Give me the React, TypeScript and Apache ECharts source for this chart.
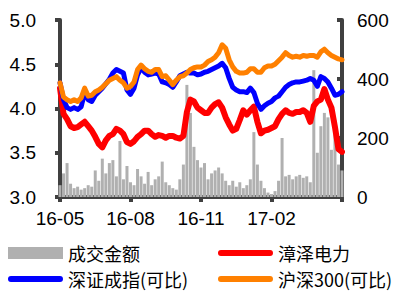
import React, { useEffect, useRef } from "react";
import * as echarts from "echarts";

// x positions are index steps (~2.5 trading days); tick labels every 20 steps
const tickLabels = ["16-05", "16-08", "16-11", "17-02", ""];

const volume = [
  40, 80, 115, 45, 30, 35, 25, 30, 40, 35,
  90, 55, 130, 80, 115, 125, 70, 190, 60, 105,
  50, 40, 95, 70, 45, 85, 40, 60, 70, 120,
  50, 40, 30, 25, 60, 110, 380, 285, 170, 125,
  100, 115, 60, 80, 90, 100, 80, 55, 40, 55,
  35, 50, 30, 40, 60, 220, 110, 55, 30, 15,
  10, 20, 55, 200, 70, 75, 60, 70, 75, 65,
  70, 50, 430, 150, 240, 285, 270, 160, 260, 110, 90,
];

const zhangze = [
  4.23, 3.94, 3.88, 3.80, 3.78, 3.79, 3.82, 3.85, 3.80, 3.75,
  3.68, 3.60, 3.56, 3.64, 3.69, 3.71, 3.77, 3.75, 3.71, 3.62,
  3.60, 3.63, 3.68, 3.71, 3.75, 3.75, 3.71, 3.68, 3.70, 3.69,
  3.67, 3.69, 3.69, 3.67, 3.66, 3.69, 3.96, 4.10, 4.08, 4.01,
  3.98, 3.95, 3.95, 4.01, 4.05, 4.07, 4.01, 3.90, 3.82, 3.75,
  3.77, 3.87, 3.98, 3.93, 3.98, 4.02, 3.85, 3.72, 3.75, 3.76,
  3.78, 3.80, 3.88, 3.94, 3.98, 3.95, 3.94, 3.96, 3.96, 3.98,
  3.95, 3.85, 4.03, 4.08, 4.10, 4.22, 4.10, 4.01, 3.79, 3.54, 3.51,
];

const szComponent = [
  4.29, 4.10, 4.01, 3.99, 4.01, 3.99, 4.02, 4.18, 4.10, 4.08,
  4.15, 4.19, 4.23, 4.28, 4.33, 4.40, 4.44, 4.42, 4.40, 4.21,
  4.16, 4.23, 4.38, 4.46, 4.41, 4.38, 4.39, 4.40, 4.39, 4.30,
  4.29, 4.27, 4.24, 4.30, 4.37, 4.39, 4.41, 4.40, 4.40, 4.38,
  4.39, 4.41, 4.42, 4.44, 4.46, 4.48, 4.51, 4.46, 4.34, 4.24,
  4.21, 4.19, 4.19, 4.18, 4.23, 4.18, 4.06, 3.99, 4.03, 4.06,
  4.08, 4.12, 4.14, 4.19, 4.24, 4.27, 4.29, 4.30, 4.30, 4.31,
  4.32, 4.34, 4.32, 4.25, 4.36, 4.34, 4.30, 4.23, 4.15, 4.16, 4.19,
];

const hs300 = [
  4.29, 4.13, 4.10, 4.08, 4.10, 4.08, 4.12, 4.23, 4.14, 4.15,
  4.19, 4.21, 4.24, 4.28, 4.32, 4.34, 4.36, 4.32, 4.29, 4.23,
  4.25, 4.30, 4.44, 4.49, 4.45, 4.42, 4.41, 4.44, 4.44, 4.36,
  4.37, 4.32, 4.27, 4.32, 4.36, 4.37, 4.40, 4.44, 4.46, 4.47,
  4.47, 4.49, 4.53, 4.55, 4.58, 4.63, 4.72, 4.68, 4.55, 4.47,
  4.42, 4.40, 4.40, 4.41, 4.45, 4.45, 4.41, 4.41, 4.46, 4.48,
  4.48, 4.50, 4.54, 4.58, 4.63, 4.60, 4.58, 4.59, 4.58, 4.60,
  4.59, 4.60, 4.60, 4.58, 4.64, 4.67, 4.63, 4.60, 4.58, 4.56, 4.55,
];

const seriesNames = ["成交金额", "漳泽电力", "深证成指(可比)", "沪深300(可比)"];

const pairs = (arr: number[]) => arr.map((v, i) => [i, v]);

const LINE_ICON =
  "path://M3,0 L53,0 A3,3 0 0 1 53,6 L3,6 A3,3 0 0 1 3,0 Z";

export default function App() {
  const ref = useRef<HTMLDivElement>(null);
  useEffect(() => {
    if (!ref.current) return;
    const chart = echarts.init(ref.current, undefined, { renderer: "svg" });
    const axisColor = "#404040";
    const labelFont = {
      color: "#000",
      fontSize: 19,
      fontFamily: "Liberation Sans, Arial, sans-serif",
    };
    const legendText = {
      color: "#000",
      fontSize: 18,
      fontFamily: "Noto Sans CJK SC, sans-serif",
    };
    const legendItem = (name: string, icon: string, left: number, top: number) => ({
      orient: "horizontal",
      left,
      top,
      padding: 0,
      itemWidth: 55,
      itemHeight: 12,
      itemGap: 5,
      textStyle: legendText,
      data: [{ name, icon }],
    });
    chart.setOption({
      animation: false,
      backgroundColor: "#fff",
      grid: { left: 60, right: 53, top: 20, height: 177, containLabel: false },
      legend: [
        legendItem(seriesNames[0], "rect", 8, 244),
        legendItem(seriesNames[2], LINE_ICON, 8, 270),
        legendItem(seriesNames[1], LINE_ICON, 218, 244),
        legendItem(seriesNames[3], LINE_ICON, 218, 270),
      ],
      xAxis: {
        type: "value",
        min: 0,
        max: 80,
        interval: 20,
        axisLine: { show: true, onZero: false, lineStyle: { color: axisColor, width: 4 } },
        axisTick: { show: true, length: 5, lineStyle: { color: axisColor, width: 4 } },
        axisLabel: {
          ...labelFont,
          margin: 12,
          showMaxLabel: true,
          formatter: (v: number) => tickLabels[Math.round(v / 20)] ?? "",
        },
        splitLine: { show: false },
      },
      yAxis: [
        {
          type: "value",
          position: "left",
          min: 3,
          max: 5,
          interval: 0.5,
          axisLine: { show: true, lineStyle: { color: axisColor, width: 4 } },
          axisTick: { show: true, length: 5, lineStyle: { color: axisColor, width: 4 } },
          axisLabel: { ...labelFont, margin: 24, formatter: (v: number) => v.toFixed(1) },
          splitLine: { show: false },
        },
        {
          type: "value",
          position: "right",
          min: 0,
          max: 600,
          interval: 200,
          axisLine: { show: true, lineStyle: { color: axisColor, width: 4 } },
          axisTick: { show: true, inside: true, length: 5, lineStyle: { color: axisColor, width: 4 } },
          axisLabel: { ...labelFont, margin: 15 },
          splitLine: { show: false },
        },
      ],
      series: [
        {
          name: seriesNames[0],
          type: "bar",
          yAxisIndex: 1,
          barWidth: 3,
          itemStyle: { color: "#B0B0B0" },
          data: pairs(volume),
        },
        {
          name: seriesNames[1],
          type: "line",
          yAxisIndex: 0,
          showSymbol: false,
          symbol: "none",
          lineStyle: { color: "#FF0000", width: 6, join: "round", cap: "round" },
          itemStyle: { color: "#FF0000" },
          data: pairs(zhangze),
        },
        {
          name: seriesNames[2],
          type: "line",
          yAxisIndex: 0,
          showSymbol: false,
          symbol: "none",
          lineStyle: { color: "#0000FF", width: 5, join: "round", cap: "round" },
          itemStyle: { color: "#0000FF" },
          data: pairs(szComponent),
        },
        {
          name: seriesNames[3],
          type: "line",
          yAxisIndex: 0,
          showSymbol: false,
          symbol: "none",
          lineStyle: { color: "#FF8000", width: 5, join: "round", cap: "round" },
          itemStyle: { color: "#FF8000" },
          data: pairs(hs300),
        },
      ],
    });
    return () => chart.dispose();
  }, []);
  return (
    <div
      ref={ref}
      style={{ position: "absolute", left: 0, top: 0, width: 395, height: 295 }}
    />
  );
}
